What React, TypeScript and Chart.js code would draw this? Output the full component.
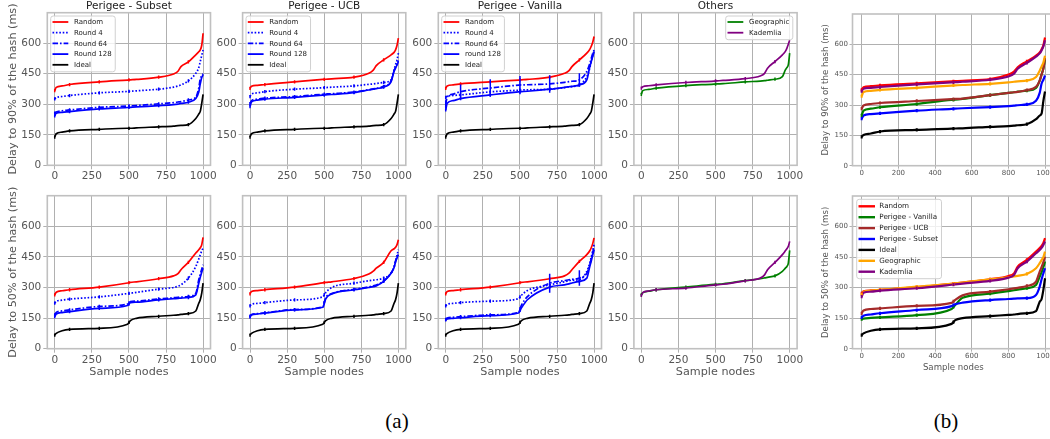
import React, { useEffect, useRef } from 'react';
import { Chart, registerables } from 'chart.js';

Chart.register(...registerables);

// ---------- data ----------
const X_GRID = [0, 10, 50, 100, 300, 490, 510, 550, 700, 800, 830, 850, 900, 950, 970, 980, 990, 999];
const X_TICKS_A = [0, 250, 500, 750, 1000];
const X_TICKS_B = [0, 200, 400, 600, 800, 1000];
const Y_TICKS = [0, 150, 300, 450, 600];
const ERR_X = [0, 100, 300, 500, 700, 900];

// Delay to 90% (top row)
const IDEAL_90 = [139, 155, 163, 169, 177, 182, 182, 184, 189, 193, 195, 196, 200, 230, 252, 265, 305, 349];
const SUBSET_90_RANDOM = [367, 383, 390, 397, 410, 419, 420, 422, 433, 449, 462, 485, 508, 543, 558, 567, 590, 649];
const SUBSET_90_R4 = [326, 333, 338, 343, 356, 363, 364, 366, 374, 384, 390, 395, 415, 452, 480, 510, 540, 567];
const SUBSET_90_R64 = [256, 262, 268, 272, 285, 291, 292, 294, 302, 308, 311, 313, 321, 335, 380, 425, 440, 450];
const SUBSET_90_R128 = [243, 256, 260, 264, 277, 284, 285, 287, 293, 298, 301, 304, 310, 328, 360, 400, 432, 444];
const UCB_90_RANDOM = [378, 388, 393, 397, 410, 422, 423, 425, 433, 452, 468, 490, 518, 543, 555, 567, 590, 625];
const UCB_90_R4 = [338, 350, 356, 362, 374, 381, 382, 384, 390, 398, 400, 402, 407, 420, 469, 495, 518, 551];
const UCB_90_R64 = [303, 318, 325, 330, 338, 349, 350, 352, 360, 372, 376, 378, 388, 415, 465, 480, 497, 515];
const UCB_90_R128 = [289, 312, 320, 325, 334, 345, 346, 348, 357, 370, 374, 377, 384, 411, 461, 478, 493, 510];
const VAN_90_RANDOM = [378, 390, 395, 400, 410, 419, 420, 422, 433, 452, 465, 485, 518, 551, 570, 585, 605, 633];
const VAN_90_R4 = [334, 340, 343, 346, 361, 369, 370, 371, 374, 382, 385, 387, 395, 436, 477, 510, 540, 564];
const VAN_90_R64 = [300, 335, 350, 362, 380, 394, 395, 396, 400, 408, 411, 413, 420, 461, 500, 525, 550, 567];
const VAN_90_R128 = [272, 305, 318, 328, 346, 361, 362, 364, 374, 383, 386, 388, 395, 420, 485, 510, 535, 559];
const VAN_90_R64_ERR = [20, 35, 43, 45, 43, 33];
const OTH_90_GEO = [349, 367, 373, 379, 392, 399, 400, 401, 410, 414, 416, 418, 423, 436, 469, 480, 495, 551];
const OTH_90_KAD = [379, 386, 391, 395, 407, 414, 415, 417, 426, 439, 452, 477, 510, 543, 560, 575, 595, 615];

// Delay to 50% (bottom row)
const IDEAL_50 = [67, 75, 88, 95, 100, 120, 138, 149, 159, 164, 166, 168, 172, 185, 223, 240, 272, 321];
const SUBSET_50_RANDOM = [264, 277, 284, 289, 302, 322, 325, 328, 343, 357, 368, 387, 423, 469, 485, 495, 510, 546];
const SUBSET_50_R4 = [223, 232, 238, 243, 254, 270, 272, 276, 292, 300, 306, 313, 346, 403, 440, 460, 480, 493];
const SUBSET_50_R64 = [166, 178, 185, 190, 207, 219, 231, 233, 244, 250, 252, 253, 256, 272, 338, 365, 390, 411];
const SUBSET_50_R128 = [157, 170, 177, 182, 198, 212, 226, 228, 239, 245, 247, 248, 251, 264, 321, 350, 375, 395];
const UCB_50_RANDOM = [269, 280, 285, 289, 302, 323, 325, 328, 344, 366, 380, 395, 423, 480, 490, 497, 510, 534];
const UCB_50_R4 = [210, 218, 222, 226, 239, 254, 275, 300, 321, 333, 336, 338, 346, 370, 400, 430, 460, 485];
const UCB_50_R64 = [160, 168, 172, 176, 192, 205, 250, 270, 291, 303, 308, 312, 332, 372, 400, 430, 450, 465];
const UCB_50_R128 = [155, 165, 170, 174, 190, 203, 245, 268, 289, 300, 304, 308, 330, 370, 398, 425, 445, 461];
const VAN_50_RANDOM = [269, 280, 285, 289, 302, 322, 325, 328, 343, 357, 370, 387, 428, 461, 480, 495, 515, 543];
const VAN_50_R4 = [210, 218, 222, 226, 233, 245, 262, 285, 313, 328, 333, 336, 338, 379, 420, 450, 480, 510];
const VAN_50_R64 = [144, 150, 154, 157, 166, 178, 213, 255, 321, 334, 338, 340, 346, 370, 410, 440, 470, 502];
const VAN_50_R128 = [141, 146, 149, 152, 162, 175, 200, 240, 302, 313, 318, 322, 330, 346, 403, 430, 460, 485];
const VAN_50_R64_ERR = [8, 8, 8, 8, 47, 38];
const OTH_50_GEO = [264, 275, 282, 289, 302, 315, 316, 318, 334, 343, 347, 350, 357, 379, 395, 403, 420, 482];
const OTH_50_KAD = [261, 275, 283, 289, 297, 312, 313, 316, 333, 346, 362, 387, 423, 461, 480, 490, 502, 526];

// Panel (b): comparison
const B90_RANDOM = [375, 388, 393, 397, 407, 417, 418, 420, 428, 451, 465, 487, 516, 544, 560, 575, 595, 634];
const B90_VANILLA = [249, 272, 282, 289, 305, 325, 326, 330, 349, 360, 363, 366, 371, 385, 421, 450, 480, 526];
const B90_UCB = [282, 298, 305, 310, 320, 329, 330, 332, 349, 360, 363, 365, 374, 390, 421, 450, 480, 533];
const B90_SUBSET = [233, 248, 255, 259, 272, 281, 282, 284, 290, 295, 297, 299, 303, 321, 360, 405, 425, 446];
const B90_IDEAL = [143, 152, 159, 169, 177, 183, 184, 185, 192, 196, 198, 200, 205, 230, 248, 257, 320, 367];
const B90_GEO = [344, 364, 370, 375, 385, 396, 397, 399, 405, 412, 415, 417, 421, 438, 470, 490, 510, 544];
const B90_KAD = [369, 380, 385, 389, 402, 412, 413, 415, 425, 441, 455, 479, 508, 539, 555, 570, 590, 620];

const B50_RANDOM = [272, 282, 286, 289, 302, 319, 321, 325, 341, 357, 370, 403, 436, 477, 495, 505, 520, 543];
const B50_VANILLA = [145, 148, 151, 154, 165, 195, 215, 250, 270, 283, 287, 290, 297, 313, 354, 375, 400, 428];
const B50_UCB = [174, 188, 195, 198, 210, 225, 240, 262, 280, 292, 296, 299, 308, 330, 379, 400, 425, 452];
const B50_SUBSET = [154, 162, 168, 174, 190, 209, 218, 226, 239, 244, 246, 247, 248, 264, 305, 340, 370, 395];
const B50_IDEAL = [67, 75, 88, 95, 100, 122, 140, 150, 160, 166, 168, 170, 174, 185, 231, 243, 289, 346];
const B50_GEO = [267, 280, 285, 289, 305, 319, 321, 325, 341, 351, 355, 358, 367, 395, 420, 435, 450, 477];
const B50_KAD = [256, 275, 280, 285, 297, 314, 316, 320, 333, 349, 362, 395, 428, 469, 485, 495, 510, 526];

// ---------- styles ----------
const FONT = '"DejaVu Sans", sans-serif';
const GRID = '#b0b0b0';
const SPINE = '#c0c0c0';
const TICK_COLOR = '#555555';
const LABEL_COLOR = '#555555';
const RED = '#ff0000';
const BLUE = '#0000ff';
const BLACK = '#000000';
const GREEN = '#008000';
const PURPLE = '#800080';
const BROWN = '#a52a2a';
const ORANGE = '#ffa500';
const DOT = [1.6, 1.8];
const DASHDOT = [5.5, 2, 1.6, 2];
const SMALL_ERR = 8;

type Line = { label: string; values: number[]; color: string; dash?: number[]; err?: number[] };
type PanelSpec = {
  key: string;
  left: number; top: number; width: number; height: number;
  plotLeft: number; plotTop: number; plotRight: number; plotBottom: number;
  title?: string; yTitle?: string; xTitle?: string;
  lines: Line[];
  legend?: 'left' | 'right';
  small?: boolean;
  xTicks: number[];
};

function perigeeLines(r: number[], r4: number[], r64: number[], r128: number[], ideal: number[], r128Label: string, r64Err?: number[]): Line[] {
  return [
    { label: 'Random', values: r, color: RED },
    { label: 'Round 4', values: r4, color: BLUE, dash: DOT },
    { label: 'Round 64', values: r64, color: BLUE, dash: DASHDOT, err: r64Err },
    { label: r128Label, values: r128, color: BLUE },
    { label: 'Ideal', values: ideal, color: BLACK },
  ];
}

function compareLines(r: number[], v: number[], u: number[], s: number[], i: number[], g: number[], k: number[]): Line[] {
  return [
    { label: 'Random', values: r, color: RED },
    { label: 'Perigee - Vanilla', values: v, color: GREEN },
    { label: 'Perigee - UCB', values: u, color: BROWN },
    { label: 'Perigee - Subset', values: s, color: BLUE },
    { label: 'Ideal', values: i, color: BLACK },
    { label: 'Geographic', values: g, color: ORANGE },
    { label: 'Kademlia', values: k, color: PURPLE },
  ];
}

const PLOT_LEFTS = [47.3, 242.6, 438.3, 633.9];
const PLOT_W = 163.2;
const CANVAS_LEFTS = [0, 195, 390, 586];

function leftPanel(col: number, row: number, lines: Line[], title?: string, legend?: 'left' | 'right'): PanelSpec {
  const left = CANVAS_LEFTS[col];
  const plotLeft = PLOT_LEFTS[col];
  const plotRight = plotLeft + PLOT_W;
  const width = Math.ceil(plotRight + 14 - left);
  return {
    key: `a-${row}-${col}`,
    left, top: row === 0 ? 0 : 185, width, height: row === 0 ? 185 : 200,
    plotLeft, plotRight,
    plotTop: row === 0 ? 12.7 : 195.7,
    plotBottom: row === 0 ? 165.3 : 348.7,
    title: row === 0 ? title : undefined,
    yTitle: col === 0 ? (row === 0 ? 'Delay to 90% of the hash (ms)' : 'Delay to 50% of the hash (ms)') : undefined,
    xTitle: row === 1 ? 'Sample nodes' : undefined,
    lines, legend: row === 0 ? legend : undefined, small: false, xTicks: X_TICKS_A,
  };
}

const PANELS: PanelSpec[] = [
  leftPanel(0, 0, perigeeLines(SUBSET_90_RANDOM, SUBSET_90_R4, SUBSET_90_R64, SUBSET_90_R128, IDEAL_90, 'Round 128'), 'Perigee - Subset', 'left'),
  leftPanel(1, 0, perigeeLines(UCB_90_RANDOM, UCB_90_R4, UCB_90_R64, UCB_90_R128, IDEAL_90, 'Round 128'), 'Perigee - UCB', 'left'),
  leftPanel(2, 0, perigeeLines(VAN_90_RANDOM, VAN_90_R4, VAN_90_R64, VAN_90_R128, IDEAL_90, 'round 128', VAN_90_R64_ERR), 'Perigee - Vanilla', 'left'),
  leftPanel(3, 0, [
    { label: 'Geographic', values: OTH_90_GEO, color: GREEN },
    { label: 'Kademlia', values: OTH_90_KAD, color: PURPLE },
  ], 'Others', 'right'),
  leftPanel(0, 1, perigeeLines(SUBSET_50_RANDOM, SUBSET_50_R4, SUBSET_50_R64, SUBSET_50_R128, IDEAL_50, 'Round 128')),
  leftPanel(1, 1, perigeeLines(UCB_50_RANDOM, UCB_50_R4, UCB_50_R64, UCB_50_R128, IDEAL_50, 'Round 128')),
  leftPanel(2, 1, perigeeLines(VAN_50_RANDOM, VAN_50_R4, VAN_50_R64, VAN_50_R128, IDEAL_50, 'round 128', VAN_50_R64_ERR)),
  leftPanel(3, 1, [
    { label: 'Geographic', values: OTH_50_GEO, color: GREEN },
    { label: 'Kademlia', values: OTH_50_KAD, color: PURPLE },
  ]),
  {
    key: 'b-top', left: 790, top: 0, width: 279, height: 185,
    plotLeft: 852.5, plotRight: 1054.2, plotTop: 14, plotBottom: 165.7,
    yTitle: 'Delay to 90% of the hash (ms)',
    lines: compareLines(B90_RANDOM, B90_VANILLA, B90_UCB, B90_SUBSET, B90_IDEAL, B90_GEO, B90_KAD),
    small: true, xTicks: X_TICKS_B,
  },
  {
    key: 'b-bottom', left: 790, top: 185, width: 279, height: 200,
    plotLeft: 852.5, plotRight: 1054.2, plotTop: 196, plotBottom: 348.7,
    yTitle: 'Delay to 50% of the hash (ms)', xTitle: 'Sample nodes',
    lines: compareLines(B50_RANDOM, B50_VANILLA, B50_UCB, B50_SUBSET, B50_IDEAL, B50_GEO, B50_KAD),
    legend: 'left', small: true, xTicks: X_TICKS_B,
  },
];

// ---------- drawing helpers ----------
function interpY(xs: number[], ys: number[], x: number): number {
  for (let i = 0; i < xs.length - 1; i++) {
    if (x >= xs[i] && x <= xs[i + 1]) {
      const t = (x - xs[i]) / (xs[i + 1] - xs[i]);
      return ys[i] + t * (ys[i + 1] - ys[i]);
    }
  }
  return ys[ys.length - 1];
}

function makeDecor(s: PanelSpec) {
  return {
    id: 'decor',
    afterDatasetsDraw(chart: any) {
      const ctx: CanvasRenderingContext2D = chart.ctx;
      const area = chart.chartArea;
      const xs = chart.scales.x;
      const ys = chart.scales.y;
      const lw = s.small ? 2.0 : 1.5;
      ctx.save();
      ctx.beginPath();
      ctx.rect(area.left, area.top, area.right - area.left, area.bottom - area.top);
      ctx.clip();
      // error bars
      s.lines.forEach((ln) => {
        ctx.strokeStyle = ln.color;
        ctx.lineWidth = lw;
        ctx.setLineDash([]);
        ERR_X.forEach((ex, k) => {
          const half = ln.err ? ln.err[k] : SMALL_ERR;
          const c = interpY(X_GRID, ln.values, ex);
          const px = xs.getPixelForValue(ex);
          ctx.beginPath();
          ctx.moveTo(px, ys.getPixelForValue(c - half));
          ctx.lineTo(px, ys.getPixelForValue(c + half));
          ctx.stroke();
        });
      });
      ctx.restore();
      // frame (spines)
      ctx.save();
      ctx.strokeStyle = SPINE;
      ctx.lineWidth = 1.6;
      ctx.setLineDash([]);
      ctx.strokeRect(area.left, area.top, area.right - area.left, area.bottom - area.top);
      ctx.restore();
      // legend
      if (s.legend) {
        ctx.save();
        const fs = s.small ? 7.2 : 7;
        ctx.font = `${fs}px ${FONT}`;
        const rowH = s.small ? 10.9 : 10.7;
        const textW = Math.max(...s.lines.map((l) => ctx.measureText(l.label).width));
        const textX = s.small ? 22.6 : 23.3;
        const boxW = textX + textW + 3.5;
        const firstRow = s.small ? 7 : 6;
        const boxH = firstRow + rowH * (s.lines.length - 1) + 7;
        const bx = s.legend === 'left' ? area.left + (s.small ? 4.2 : 3.4) : area.right - 4.3 - boxW;
        const by = area.top + 3.3;
        ctx.beginPath();
        const r = 2.5;
        ctx.moveTo(bx + r, by);
        ctx.lineTo(bx + boxW - r, by);
        ctx.quadraticCurveTo(bx + boxW, by, bx + boxW, by + r);
        ctx.lineTo(bx + boxW, by + boxH - r);
        ctx.quadraticCurveTo(bx + boxW, by + boxH, bx + boxW - r, by + boxH);
        ctx.lineTo(bx + r, by + boxH);
        ctx.quadraticCurveTo(bx, by + boxH, bx, by + boxH - r);
        ctx.lineTo(bx, by + r);
        ctx.quadraticCurveTo(bx, by, bx + r, by);
        ctx.closePath();
        ctx.fillStyle = 'rgba(255,255,255,0.8)';
        ctx.fill();
        ctx.strokeStyle = '#d0d0d0';
        ctx.lineWidth = 1;
        ctx.stroke();
        s.lines.forEach((ln, k) => {
          const cy = by + firstRow + k * rowH;
          ctx.strokeStyle = ln.color;
          ctx.lineWidth = s.small ? 2.4 : 1.8;
          ctx.setLineDash(ln.dash || []);
          ctx.beginPath();
          ctx.moveTo(bx + 1.8, cy);
          ctx.lineTo(bx + (s.small ? 18.3 : 17.6), cy);
          ctx.stroke();
          ctx.setLineDash([]);
          ctx.fillStyle = '#222222';
          ctx.textBaseline = 'middle';
          ctx.textAlign = 'left';
          ctx.fillText(ln.label, bx + textX, cy + 0.3);
        });
        ctx.restore();
      }
    },
  };
}

function buildConfig(s: PanelSpec): any {
  const small = !!s.small;
  const yWidth = s.plotLeft - s.left;
  const xHeight = s.top + s.height - s.plotBottom;
  const padRight = s.left + s.width - s.plotRight;
  const topSpace = s.plotTop - s.top;
  const lw = small ? 2.2 : 1.7;
  const tickSize = small ? 7 : 10.5;
  const axSize = small ? 8.6 : 11.2;
  const datasets = s.lines.map((ln, i) => ({
    label: ln.label,
    data: X_GRID.map((x, j) => ({ x, y: ln.values[j] })),
    borderColor: ln.color,
    backgroundColor: ln.color,
    borderWidth: lw,
    borderDash: ln.dash || [],
    pointRadius: 0,
    cubicInterpolationMode: 'monotone',
    fill: false,
    order: -i,
  }));
  return {
    type: 'line',
    data: { datasets },
    options: {
      animation: false,
      responsive: false,
      devicePixelRatio: 1,
      events: [],
      layout: { padding: { left: 0, right: padRight, top: s.title ? 0 : topSpace, bottom: 0 } },
      plugins: {
        legend: { display: false },
        tooltip: { enabled: false },
        title: s.title
          ? {
              display: true,
              fullSize: false,
              text: s.title,
              color: '#222222',
              font: { family: FONT, size: 10.5, weight: 'normal', lineHeight: `${topSpace.toFixed(2)}px` },
              padding: { top: 0, bottom: 0 },
            }
          : { display: false },
      },
      scales: {
        x: {
          type: 'linear',
          min: -50,
          max: 1049,
          afterBuildTicks: (sc: any) => {
            sc.ticks = s.xTicks.map((v) => ({ value: v }));
          },
          afterFit: (sc: any) => {
            sc.height = xHeight;
          },
          ticks: {
            color: TICK_COLOR,
            font: { family: FONT, size: tickSize },
            padding: small ? 0.5 : 1,
            maxRotation: 0,
            autoSkip: false,
            callback: (v: any) => String(v),
          },
          grid: { color: GRID, lineWidth: 1, tickLength: small ? 3 : 4, drawTicks: true },
          border: { display: false },
          title: s.xTitle
            ? {
                display: true,
                text: s.xTitle,
                color: LABEL_COLOR,
                font: { family: FONT, size: axSize },
                padding: { top: 0, bottom: small ? 12.1 : 6.3 },
              }
            : { display: false },
        },
        y: {
          type: 'linear',
          min: 0,
          max: 750,
          afterBuildTicks: (sc: any) => {
            sc.ticks = Y_TICKS.map((v) => ({ value: v }));
          },
          afterFit: (sc: any) => {
            sc.width = yWidth;
          },
          ticks: {
            color: TICK_COLOR,
            font: { family: FONT, size: tickSize },
            padding: small ? 1.6 : 2,
            autoSkip: false,
            callback: (v: any) => String(v),
          },
          grid: { color: GRID, lineWidth: 1, tickLength: small ? 3 : 4, drawTicks: true },
          border: { display: false },
          title: s.yTitle
            ? {
                display: true,
                text: s.yTitle,
                color: LABEL_COLOR,
                font: { family: FONT, size: axSize },
                padding: { top: small ? 30.8 : 6.0, bottom: 0 },
              }
            : { display: false },
        },
      },
    },
    plugins: [makeDecor(s)],
  };
}

function Panel({ spec }: { spec: PanelSpec }) {
  const ref = useRef<HTMLCanvasElement>(null);
  useEffect(() => {
    if (!ref.current) return;
    const chart = new Chart(ref.current, buildConfig(spec));
    return () => chart.destroy();
  }, [spec]);
  return (
    <canvas
      ref={ref}
      width={spec.width}
      height={spec.height}
      style={{ position: 'absolute', left: spec.left, top: spec.top, width: spec.width, height: spec.height }}
    />
  );
}

export default function App() {
  const caption: React.CSSProperties = {
    position: 'absolute',
    top: 421,
    transform: 'translate(-50%, -50%)',
    fontFamily: '"Liberation Serif", "DejaVu Serif", serif',
    fontSize: 21,
    color: '#000',
    lineHeight: 1,
    whiteSpace: 'nowrap',
  };
  return (
    <div style={{ position: 'absolute', left: 0, top: 0, width: 1050, height: 439, overflow: 'hidden', background: '#ffffff' }}>
      {PANELS.map((p) => (
        <Panel key={p.key} spec={p} />
      ))}
      <div style={{ ...caption, left: 397 }}>(a)</div>
      <div style={{ ...caption, left: 946 }}>(b)</div>
    </div>
  );
}
